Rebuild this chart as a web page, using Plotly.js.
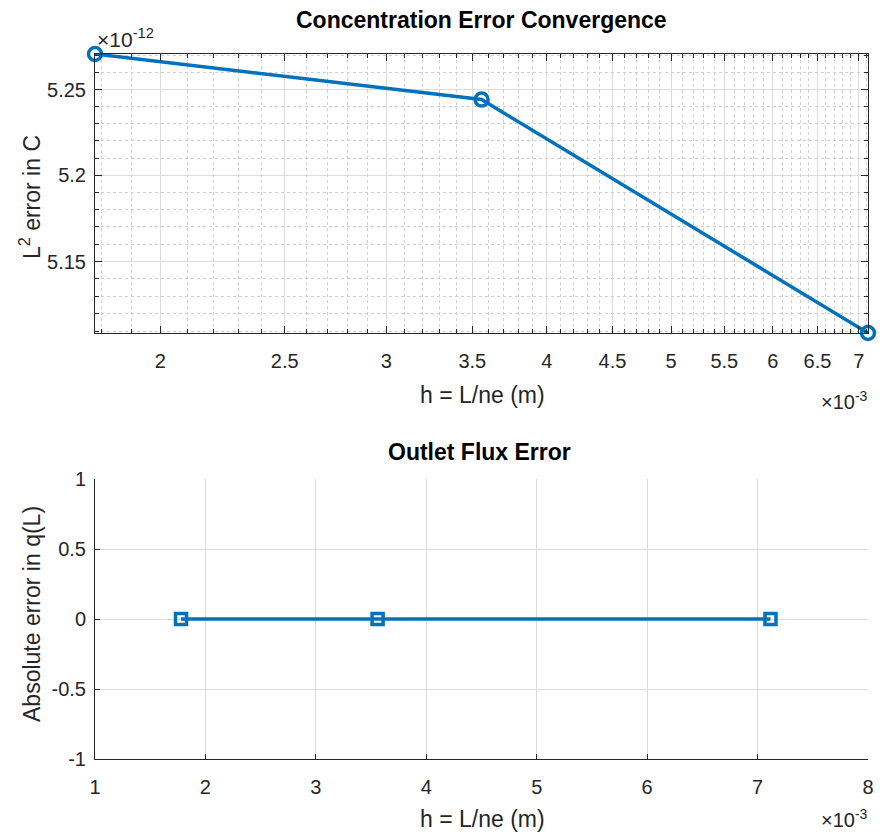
<!DOCTYPE html>
<html>
<head>
<meta charset="utf-8">
<script src="https://cdn.plot.ly/plotly-3.0.1.min.js"></script>
<style>html,body{margin:0;padding:0;background:#fff;}#chart{width:880px;height:833px;}</style>
</head>
<body>
<div id="chart"></div>
<script>
// Data (h in metres)
const hValues = [0.001779, 0.003559, 0.007117];
const concError = [5.271e-12, 5.2442e-12, 5.109e-12];
const fluxError = [0, 0, 0];

// Tick definitions
const topXTickVals = [0.002, 0.0025, 0.003, 0.0035, 0.004, 0.0045, 0.005, 0.0055, 0.006, 0.0065, 0.007];
const topXTickText = ['2', '2.5', '3', '3.5', '4', '4.5', '5', '5.5', '6', '6.5', '7'];
const topXMinorVals = [0.0018, 0.0019, 0.0021, 0.0022, 0.0023, 0.0024, 0.0026, 0.0027, 0.0028, 0.0029,
  0.0031, 0.0032, 0.0033, 0.0034, 0.0036, 0.0037, 0.0038, 0.0039, 0.0041, 0.0042, 0.0043, 0.0044,
  0.0046, 0.0047, 0.0048, 0.0049, 0.0051, 0.0052, 0.0053, 0.0054, 0.0056, 0.0057, 0.0058, 0.0059,
  0.0061, 0.0062, 0.0063, 0.0064, 0.0066, 0.0067, 0.0068, 0.0069, 0.0071];
const topYTickVals = [5.15e-12, 5.2e-12, 5.25e-12];
const topYTickText = ['5.15', '5.2', '5.25'];
const topYMinorVals = [5.11e-12, 5.12e-12, 5.13e-12, 5.14e-12, 5.16e-12, 5.17e-12, 5.18e-12, 5.19e-12,
  5.21e-12, 5.22e-12, 5.23e-12, 5.24e-12, 5.26e-12, 5.27e-12];
const botXTickVals = [0.001, 0.002, 0.003, 0.004, 0.005, 0.006, 0.007, 0.008];
const botXTickText = ['1', '2', '3', '4', '5', '6', '7', '8'];
const botYTickVals = [-1, -0.5, 0, 0.5, 1];
const botYTickText = ['-1', '-0.5', '0', '0.5', '1'];

const W = 880, H = 833;
const px = x => x / W;
const py = y => 1 - y / H;
const blue = '#0072BD';
const axisCol = '#262626';
const gridCol = '#dcdcdc';
const minorGridCol = '#cfcfcf';
const fontFam = 'Liberation Sans, Arial, Helvetica, sans-serif';
const tickSize = 20;
const labelSize = 23;
const titleSize = 23;

const xTopRange = [Math.log10(0.001779), Math.log10(0.007117)];
const yTopRange = [Math.log10(5.109e-12), Math.log10(5.271e-12)];
const topXDomain = [px(95), px(868)];
const topYDomain = [py(333), py(54)];

const traces = [
  {
    x: hValues, y: concError, xaxis: 'x', yaxis: 'y', type: 'scatter', mode: 'lines+markers',
    line: {color: blue, width: 3.5},
    marker: {symbol: 'circle-open', size: 13, color: blue, line: {width: 3.5, color: blue}},
    cliponaxis: false, hoverinfo: 'none'
  },
  {
    x: hValues, y: fluxError, xaxis: 'x2', yaxis: 'y2', type: 'scatter', mode: 'lines+markers',
    line: {color: blue, width: 3.5},
    marker: {symbol: 'square-open', size: 11, color: blue, line: {width: 3.5, color: blue}},
    cliponaxis: false, hoverinfo: 'none'
  },
  {
    // empty trace carrying the minor-grid overlay axes of the top panel
    x: [], y: [], xaxis: 'x3', yaxis: 'y3', type: 'scatter', mode: 'markers', hoverinfo: 'none'
  }
];

const layout = {
  width: W, height: H,
  margin: {l: 0, r: 0, t: 0, b: 0},
  paper_bgcolor: '#ffffff', plot_bgcolor: '#ffffff',
  showlegend: false,
  font: {family: fontFam, size: tickSize, color: axisCol},
  xaxis: {
    type: 'log', domain: topXDomain, range: xTopRange, anchor: 'y',
    tickmode: 'array', tickvals: topXTickVals, ticktext: topXTickText,
    ticks: 'inside', ticklen: 7, tickwidth: 1, tickcolor: axisCol, ticklabelstandoff: 10,
    showline: true, linecolor: axisCol, linewidth: 1, mirror: 'ticks',
    showgrid: true, gridcolor: gridCol, gridwidth: 1,
    zeroline: false,
    tickfont: {size: tickSize, color: axisCol}
  },
  yaxis: {
    type: 'log', domain: topYDomain, range: yTopRange, anchor: 'x',
    tickmode: 'array', tickvals: topYTickVals, ticktext: topYTickText,
    ticks: 'inside', ticklen: 7, tickwidth: 1, tickcolor: axisCol, ticklabelstandoff: 4,
    showline: true, linecolor: axisCol, linewidth: 1, mirror: 'ticks',
    showgrid: true, gridcolor: gridCol, gridwidth: 1,
    zeroline: false,
    tickfont: {size: tickSize, color: axisCol}
  },
  xaxis3: {
    type: 'log', domain: topXDomain, range: xTopRange, anchor: 'y3', overlaying: 'x',
    tickmode: 'array', tickvals: topXMinorVals, showticklabels: false,
    ticks: 'inside', ticklen: 4, tickwidth: 1, tickcolor: axisCol,
    showline: false, mirror: 'ticks',
    showgrid: true, gridcolor: minorGridCol, gridwidth: 1, griddash: 'dot',
    zeroline: false
  },
  yaxis3: {
    type: 'log', domain: topYDomain, range: yTopRange, anchor: 'x3', overlaying: 'y',
    tickmode: 'array', tickvals: topYMinorVals, showticklabels: false,
    ticks: 'inside', ticklen: 4, tickwidth: 1, tickcolor: axisCol,
    showline: false, mirror: 'ticks',
    showgrid: true, gridcolor: minorGridCol, gridwidth: 1, griddash: 'dot',
    zeroline: false
  },
  xaxis2: {
    type: 'linear', domain: [px(95), px(868)],
    range: [0.001, 0.008], anchor: 'y2',
    tickmode: 'array', tickvals: botXTickVals, ticktext: botXTickText,
    ticks: 'inside', ticklen: 5, tickwidth: 1, tickcolor: axisCol, ticklabelstandoff: 10,
    showline: true, linecolor: axisCol, linewidth: 1, mirror: false,
    showgrid: true, gridcolor: gridCol, gridwidth: 1,
    zeroline: false,
    tickfont: {size: tickSize, color: axisCol}
  },
  yaxis2: {
    type: 'linear', domain: [py(759), py(479)],
    range: [-1, 1], anchor: 'x2',
    tickmode: 'array', tickvals: botYTickVals, ticktext: botYTickText,
    ticks: 'inside', ticklen: 5, tickwidth: 1, tickcolor: axisCol, ticklabelstandoff: 4,
    showline: true, linecolor: axisCol, linewidth: 1, mirror: false,
    showgrid: true, gridcolor: gridCol, gridwidth: 1,
    zeroline: false,
    tickfont: {size: tickSize, color: axisCol}
  },
  annotations: [
    {text: '<b>Concentration Error Convergence</b>', x: px(481), y: py(20), xref: 'paper', yref: 'paper',
     xanchor: 'center', yanchor: 'middle', showarrow: false, font: {size: titleSize, color: '#000'}},
    {text: '<b>Outlet Flux Error</b>', x: px(479), y: py(452), xref: 'paper', yref: 'paper',
     xanchor: 'center', yanchor: 'middle', showarrow: false, font: {size: titleSize, color: '#000'}},
    {text: 'h = L/ne (m)', x: px(482), y: py(395), xref: 'paper', yref: 'paper',
     xanchor: 'center', yanchor: 'middle', showarrow: false, font: {size: labelSize, color: axisCol}},
    {text: 'h = L/ne (m)', x: px(482), y: py(819), xref: 'paper', yref: 'paper',
     xanchor: 'center', yanchor: 'middle', showarrow: false, font: {size: labelSize, color: axisCol}},
    {text: 'L<sup>2</sup> error in C', x: px(30), y: py(197), xref: 'paper', yref: 'paper',
     xanchor: 'center', yanchor: 'middle', textangle: -90, showarrow: false, font: {size: labelSize, color: axisCol}},
    {text: 'Absolute error in q(L)', x: px(32), y: py(614), xref: 'paper', yref: 'paper',
     xanchor: 'center', yanchor: 'middle', textangle: -90, showarrow: false, font: {size: labelSize, color: axisCol}},
    {text: '×10<sup>-12</sup>', x: px(95), y: py(38), xref: 'paper', yref: 'paper',
     xanchor: 'left', yanchor: 'middle', showarrow: false, font: {size: 21, color: axisCol}},
    {text: '×10<sup>-3</sup>', x: px(870), y: py(400), xref: 'paper', yref: 'paper',
     xanchor: 'right', yanchor: 'middle', showarrow: false, font: {size: 20, color: axisCol}},
    {text: '×10<sup>-3</sup>', x: px(870), y: py(818), xref: 'paper', yref: 'paper',
     xanchor: 'right', yanchor: 'middle', showarrow: false, font: {size: 20, color: axisCol}}
  ]
};

Plotly.newPlot('chart', traces, layout, {staticPlot: true, displayModeBar: false});
</script>
</body>
</html>
